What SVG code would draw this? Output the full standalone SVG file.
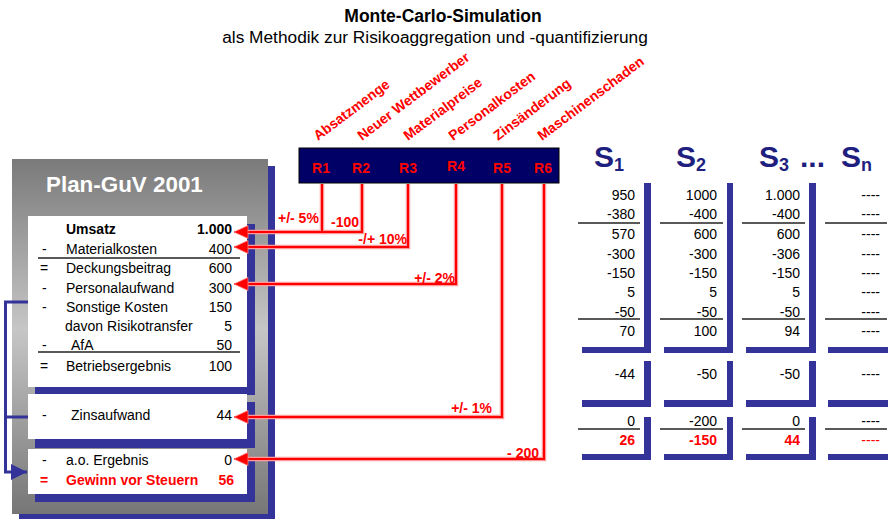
<svg xmlns="http://www.w3.org/2000/svg" width="888" height="519" viewBox="0 0 888 519">
  <defs>
    <linearGradient id="grayGrad" x1="0" y1="0" x2="0" y2="1">
      <stop offset="0" stop-color="#7a7a7a"/>
      <stop offset="0.48" stop-color="#c6c6c6"/>
      <stop offset="1" stop-color="#767676"/>
    </linearGradient>
    <marker id="redArrow" markerUnits="userSpaceOnUse" markerWidth="16" markerHeight="16" refX="15" refY="7" orient="auto">
      <path d="M1,0.5 L15,7 L1,13.5 Z" fill="#ff0000" stroke="#ff8080" stroke-width="0.8"/>
    </marker>
    <marker id="blueArrow" markerUnits="userSpaceOnUse" markerWidth="18" markerHeight="18" refX="16" refY="8" orient="auto">
      <path d="M0,0 L16,8 L0,16 Z" fill="#333399"/>
    </marker>
  </defs>
  <style>
    text { font-family: "Liberation Sans", Arial, sans-serif; }
    .title { font-size: 17.5px; font-weight: bold; fill: #000; }
    .sub { font-size: 17.3px; fill: #000; }
    .row { font-size: 14px; fill: #000; }
    .b { font-weight: bold; }
    .red { fill: #ff0000; }
    .end { text-anchor: end; }
    .mid { text-anchor: middle; }
    .rlabel { font-size: 14px; font-weight: bold; fill: #ff0000; }
    .risk { font-size: 14px; font-weight: bold; fill: #ff0000; }
    .pct { font-size: 14px; font-weight: bold; fill: #ff0000; }
    .shead { font-size: 30px; font-weight: bold; fill: #1f1f80; }
    .ssub { font-size: 18px; }
    .shadow { fill: #333399; }
    .rule { stroke: #222; stroke-width: 1.3; fill: none; }
    .halo { stroke: #ff9a9a; stroke-width: 4.5; fill: none; }
    .conn { stroke: #ff0000; stroke-width: 2; fill: none; }
    .bracket { stroke: #333399; stroke-width: 3; fill: none; }
  </style>

  <!-- Title -->
  <g id="title">
    <text class="title mid" x="443" y="22">Monte-Carlo-Simulation</text>
    <text class="sub mid" x="435" y="43">als Methodik zur Risikoaggregation und -quantifizierung</text>
  </g>

  <!-- Plan-GuV panel -->
  <g id="plan-guv">
    <rect class="shadow" x="19" y="166" width="256" height="353"/>
    <rect x="12" y="159" width="256" height="355" fill="url(#grayGrad)"/>
    <text x="46" y="192" font-size="22.4" font-weight="bold" fill="#ffffff">Plan-GuV 2001</text>
  </g>

  <g id="box-operating">
    <rect class="shadow" x="35" y="224" width="220" height="171"/>
    <rect x="28" y="216" width="219" height="171" fill="#ffffff"/>
    <text class="row b" x="66" y="234">Umsatz</text>
    <text class="row b end" x="232" y="234">1.000</text>
    <text class="row" x="42" y="254">-</text>
    <text class="row" x="66" y="254">Materialkosten</text>
    <text class="row end" x="232" y="254">400</text>
    <line class="rule" x1="38" y1="258" x2="240" y2="258"/>
    <text class="row" x="40" y="273">=</text>
    <text class="row" x="66" y="273">Deckungsbeitrag</text>
    <text class="row end" x="232" y="273">600</text>
    <text class="row" x="42" y="293">-</text>
    <text class="row" x="66" y="293">Personalaufwand</text>
    <text class="row end" x="232" y="293">300</text>
    <text class="row" x="42" y="312">-</text>
    <text class="row" x="66" y="312">Sonstige Kosten</text>
    <text class="row end" x="232" y="312">150</text>
    <text class="row" x="65" y="331">davon Risikotransfer</text>
    <text class="row end" x="232" y="331">5</text>
    <text class="row" x="42" y="350">-</text>
    <text class="row" x="71" y="350">AfA</text>
    <text class="row end" x="232" y="350">50</text>
    <line class="rule" x1="38" y1="352" x2="240" y2="352"/>
    <text class="row" x="40" y="371">=</text>
    <text class="row" x="66" y="371">Betriebsergebnis</text>
    <text class="row end" x="232" y="371">100</text>
  </g>

  <g id="box-interest">
    <rect class="shadow" x="35" y="402" width="220" height="46"/>
    <rect x="28" y="394" width="219" height="45" fill="#ffffff"/>
    <text class="row" x="42" y="420">-</text>
    <text class="row" x="71" y="420">Zinsaufwand</text>
    <text class="row end" x="232" y="420">44</text>
  </g>

  <g id="box-result">
    <rect class="shadow" x="35" y="457" width="220" height="45"/>
    <rect x="28" y="449" width="219" height="45" fill="#ffffff"/>
    <text class="row" x="42" y="465">-</text>
    <text class="row" x="66" y="465">a.o. Ergebnis</text>
    <text class="row end" x="232" y="465">0</text>
    <text class="row b red" x="40" y="485">=</text>
    <text class="row b red" x="66" y="485">Gewinn vor Steuern</text>
    <text class="row b red end" x="234" y="485">56</text>
  </g>

  <!-- Risk factor bar -->
  <g id="risk-bar">
    <rect x="299" y="148" width="260" height="35" fill="#000066" stroke="#000000" stroke-width="1"/>
    <text class="rlabel mid" x="321" y="173">R1</text>
    <text class="rlabel mid" x="361" y="173">R2</text>
    <text class="rlabel mid" x="408" y="173">R3</text>
    <text class="rlabel mid" x="456" y="171">R4</text>
    <text class="rlabel mid" x="502" y="173">R5</text>
    <text class="rlabel mid" x="543" y="173">R6</text>
  </g>

  <g id="risk-labels">
    <text class="risk" x="318" y="141" transform="rotate(-37 318 141)">Absatzmenge</text>
    <text class="risk" x="362" y="141" transform="rotate(-37 362 141)">Neuer Wettbewerber</text>
    <text class="risk" x="408" y="141" transform="rotate(-37 408 141)">Materialpreise</text>
    <text class="risk" x="453" y="141" transform="rotate(-37 453 141)">Personalkosten</text>
    <text class="risk" x="498" y="141" transform="rotate(-37 498 141)">Zinsänderung</text>
    <text class="risk" x="542" y="141" transform="rotate(-37 542 141)">Maschinenschaden</text>
  </g>

  <!-- Connectors -->
  <g id="connectors">
    <path class="halo" d="M322,184 V232 H246"/>
    <path class="halo" d="M362,184 V232 H322"/>
    <path class="halo" d="M408,184 V247 H246"/>
    <path class="halo" d="M456,184 V284 H246"/>
    <path class="halo" d="M502,184 V417 H246"/>
    <path class="halo" d="M544,184 V459 H246"/>
    <path class="conn" d="M362,184 V232 H322"/>
    <path class="conn" d="M322,184 V232 H234" marker-end="url(#redArrow)"/>
    <path class="conn" d="M408,184 V247 H234" marker-end="url(#redArrow)"/>
    <path class="conn" d="M456,184 V284 H234" marker-end="url(#redArrow)"/>
    <path class="conn" d="M502,184 V417 H234" marker-end="url(#redArrow)"/>
    <path class="conn" d="M544,184 V459 H234" marker-end="url(#redArrow)"/>
    <polyline class="bracket" points="28,302 5.5,302 5.5,472 27,472" marker-end="url(#blueArrow)"/>
    <line class="bracket" x1="5.5" y1="417" x2="28" y2="417"/>
    <text class="pct" x="278" y="223">+/- 5%</text>
    <text class="pct" x="331" y="227">-100</text>
    <text class="pct end" x="407" y="244">-/+ 10%</text>
    <text class="pct end" x="455" y="283">+/- 2%</text>
    <text class="pct end" x="492" y="413">+/- 1%</text>
    <text class="pct end" x="539" y="458">- 200</text>
  </g>

  <!-- Simulation columns -->
  <g id="sim-headers">
    <text class="shead" x="594" y="167">S<tspan class="ssub" dy="4">1</tspan></text>
    <text class="shead" x="676" y="167">S<tspan class="ssub" dy="4">2</tspan></text>
    <text class="shead" x="759" y="167">S<tspan class="ssub" dy="4">3</tspan></text>
    <text class="shead" x="800" y="167">...</text>
    <text class="shead" x="841" y="167">S<tspan class="ssub" dy="4">n</tspan></text>
  </g>

  <g id="sim-s1">
    <path class="shadow" d="M644,183 H651 V353 H582 V347 H644 Z"/>
    <path class="shadow" d="M644,361 H651 V407 H582 V400 H644 Z"/>
    <path class="shadow" d="M644,417 H651 V460 H582 V454 H644 Z"/>
    <line class="rule" x1="578" y1="223" x2="640" y2="223"/>
    <line class="rule" x1="578" y1="319" x2="640" y2="319"/>
    <line class="rule" x1="578" y1="429" x2="640" y2="429"/>
    <g class="row end">
      <text class="row end" x="635" y="200">950</text>
      <text class="row end" x="635" y="219">-380</text>
      <text class="row end" x="635" y="239">570</text>
      <text class="row end" x="635" y="259">-300</text>
      <text class="row end" x="635" y="278">-150</text>
      <text class="row end" x="635" y="297">5</text>
      <text class="row end" x="635" y="317">-50</text>
      <text class="row end" x="635" y="336">70</text>
      <text class="row end" x="635" y="379">-44</text>
      <text class="row end" x="635" y="426">0</text>
      <text class="row b red end" x="635" y="445">26</text>
    </g>
  </g>

  <g id="sim-s2">
    <path class="shadow" d="M727,183 H733 V353 H664 V347 H727 Z"/>
    <path class="shadow" d="M727,361 H733 V407 H664 V400 H727 Z"/>
    <path class="shadow" d="M727,417 H733 V460 H664 V454 H727 Z"/>
    <line class="rule" x1="660" y1="223" x2="723" y2="223"/>
    <line class="rule" x1="660" y1="319" x2="723" y2="319"/>
    <line class="rule" x1="660" y1="429" x2="723" y2="429"/>
    <text class="row end" x="717" y="200">1000</text>
    <text class="row end" x="717" y="219">-400</text>
    <text class="row end" x="717" y="239">600</text>
    <text class="row end" x="717" y="259">-300</text>
    <text class="row end" x="717" y="278">-150</text>
    <text class="row end" x="717" y="297">5</text>
    <text class="row end" x="717" y="317">-50</text>
    <text class="row end" x="717" y="336">100</text>
    <text class="row end" x="717" y="379">-50</text>
    <text class="row end" x="717" y="426">-200</text>
    <text class="row b red end" x="717" y="445">-150</text>
  </g>

  <g id="sim-s3">
    <path class="shadow" d="M809,183 H816 V353 H746 V347 H809 Z"/>
    <path class="shadow" d="M809,361 H816 V407 H746 V400 H809 Z"/>
    <path class="shadow" d="M809,417 H816 V460 H746 V454 H809 Z"/>
    <line class="rule" x1="742" y1="223" x2="805" y2="223"/>
    <line class="rule" x1="742" y1="319" x2="805" y2="319"/>
    <line class="rule" x1="742" y1="429" x2="805" y2="429"/>
    <text class="row end" x="800" y="200">1.000</text>
    <text class="row end" x="800" y="219">-400</text>
    <text class="row end" x="800" y="239">600</text>
    <text class="row end" x="800" y="259">-306</text>
    <text class="row end" x="800" y="278">-150</text>
    <text class="row end" x="800" y="297">5</text>
    <text class="row end" x="800" y="317">-50</text>
    <text class="row end" x="800" y="336">94</text>
    <text class="row end" x="800" y="379">-50</text>
    <text class="row end" x="800" y="426">0</text>
    <text class="row b red end" x="800" y="445">44</text>
  </g>

  <g id="sim-sn">
    <rect class="shadow" x="828" y="347" width="60" height="6"/>
    <rect class="shadow" x="828" y="400" width="60" height="7"/>
    <rect class="shadow" x="828" y="454" width="60" height="6"/>
    <line class="rule" x1="825" y1="223" x2="887" y2="223"/>
    <line class="rule" x1="825" y1="319" x2="887" y2="319"/>
    <line class="rule" x1="825" y1="429" x2="887" y2="429"/>
    <text class="row end" x="880" y="200">----</text>
    <text class="row end" x="880" y="219">----</text>
    <text class="row end" x="880" y="239">----</text>
    <text class="row end" x="880" y="259">----</text>
    <text class="row end" x="880" y="278">----</text>
    <text class="row end" x="880" y="297">----</text>
    <text class="row end" x="880" y="317">----</text>
    <text class="row end" x="880" y="336">----</text>
    <text class="row end" x="880" y="379">----</text>
    <text class="row end" x="880" y="426">----</text>
    <text class="row red end" x="880" y="445">----</text>
  </g>
</svg>
